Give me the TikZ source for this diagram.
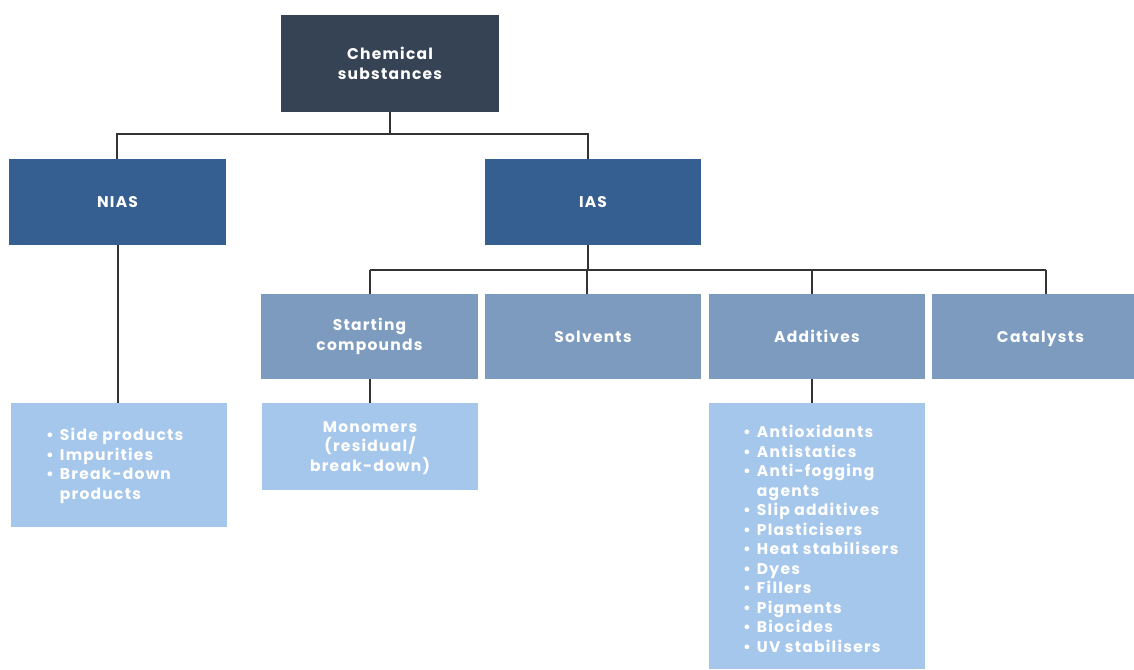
\documentclass[tikz,border=0pt]{standalone}
\usepackage{fontspec}
\setmainfont{Poppins}[LetterSpace=8]
\definecolor{cTop}{HTML}{364355}
\definecolor{cL2}{HTML}{355E91}
\definecolor{cL3}{HTML}{7C9BBF}
\definecolor{cL4}{HTML}{A6C7EC}
\definecolor{cLine}{HTML}{333333}
\newcommand{\bul}{\textbullet\hspace{6pt}}
\begin{document}
\begin{tikzpicture}[x=1pt,y=-1pt,
  box/.style={rectangle, inner sep=0pt, text=white, align=center,
    font=\fontsize{15.5}{19.5}\selectfont\bfseries},
  conn/.style={draw=cLine, line width=1.4pt}]
\useasboundingbox (0,0) rectangle (1134,669);
% level 1
\node[box, fill=cTop, minimum width=218, minimum height=97] (top) at (390,63.5) {Chemical\\substances};
% level 2
\node[box, fill=cL2, minimum width=217, minimum height=86] (nias) at (117.5,202) {NIAS};
\node[box, fill=cL2, minimum width=216, minimum height=86] (ias) at (593,202) {IAS};
% level 3
\node[box, fill=cL3, minimum width=217, minimum height=85] (sc) at (369.5,336.5) {Starting\\compounds};
\node[box, fill=cL3, minimum width=216, minimum height=85] (solv) at (593,336.5) {Solvents};
\node[box, fill=cL3, minimum width=216, minimum height=85] (add) at (817,336.5) {Additives};
\node[box, fill=cL3, minimum width=217, minimum height=85, text depth=0pt] (cat) at (1040.5,336.5) {Catalysts};
% level 4
\node[box, fill=cL4, minimum width=216, minimum height=124] (nlist) at (119,465) {};
\node[box, align=left, anchor=north west] at (46,428) {%
  \bul Side products\\
  \bul Impurities\\
  \bul Break-down\\
  \phantom{\bul}products};
\node[box, fill=cL4, minimum width=216, minimum height=87] (mono) at (370,446.5) {};
\node[box] at (370,448) {Monomers\\(residual/\\break-down)};
\node[box, fill=cL4, minimum width=216, minimum height=266] (alist) at (817,536) {};
\node[box, align=left, anchor=north west] at (743,425) {%
  \bul Antioxidants\\
  \bul Antistatics\\
  \bul Anti-fogging\\
  \phantom{\bul}agents\\
  \bul Slip additives\\
  \bul Plasticisers\\
  \bul Heat stabilisers\\
  \bul Dyes\\
  \bul Fillers\\
  \bul Pigments\\
  \bul Biocides\\
  \bul UV stabilisers};
% connectors
\coordinate (b1) at (390,134);
\draw[conn] (top.south) -- (b1);
\draw[conn] (b1) -- (b1 -| 117,0) -- (nias.north -| 117,0);
\draw[conn] (b1) -- (b1 -| 588,0) -- (ias.north -| 588,0);
\coordinate (b2) at (588,270);
\draw[conn] (ias.south -| b2) -- (b2);
\draw[conn] (b2 -| 370,0) -- (b2 -| 1046,0);
\draw[conn] (b2 -| 370,0) -- (sc.north -| 370,0);
\draw[conn] (b2 -| 587,0) -- (solv.north -| 587,0);
\draw[conn] (b2 -| 812,0) -- (add.north -| 812,0);
\draw[conn] (b2 -| 1046,0) -- (cat.north -| 1046,0);
\draw[conn] (nias.south -| 118,0) -- (nlist.north -| 118,0);
\draw[conn] (sc.south -| 370,0) -- (mono.north -| 370,0);
\draw[conn] (add.south -| 812,0) -- (alist.north -| 812,0);
\end{tikzpicture}
\end{document}
